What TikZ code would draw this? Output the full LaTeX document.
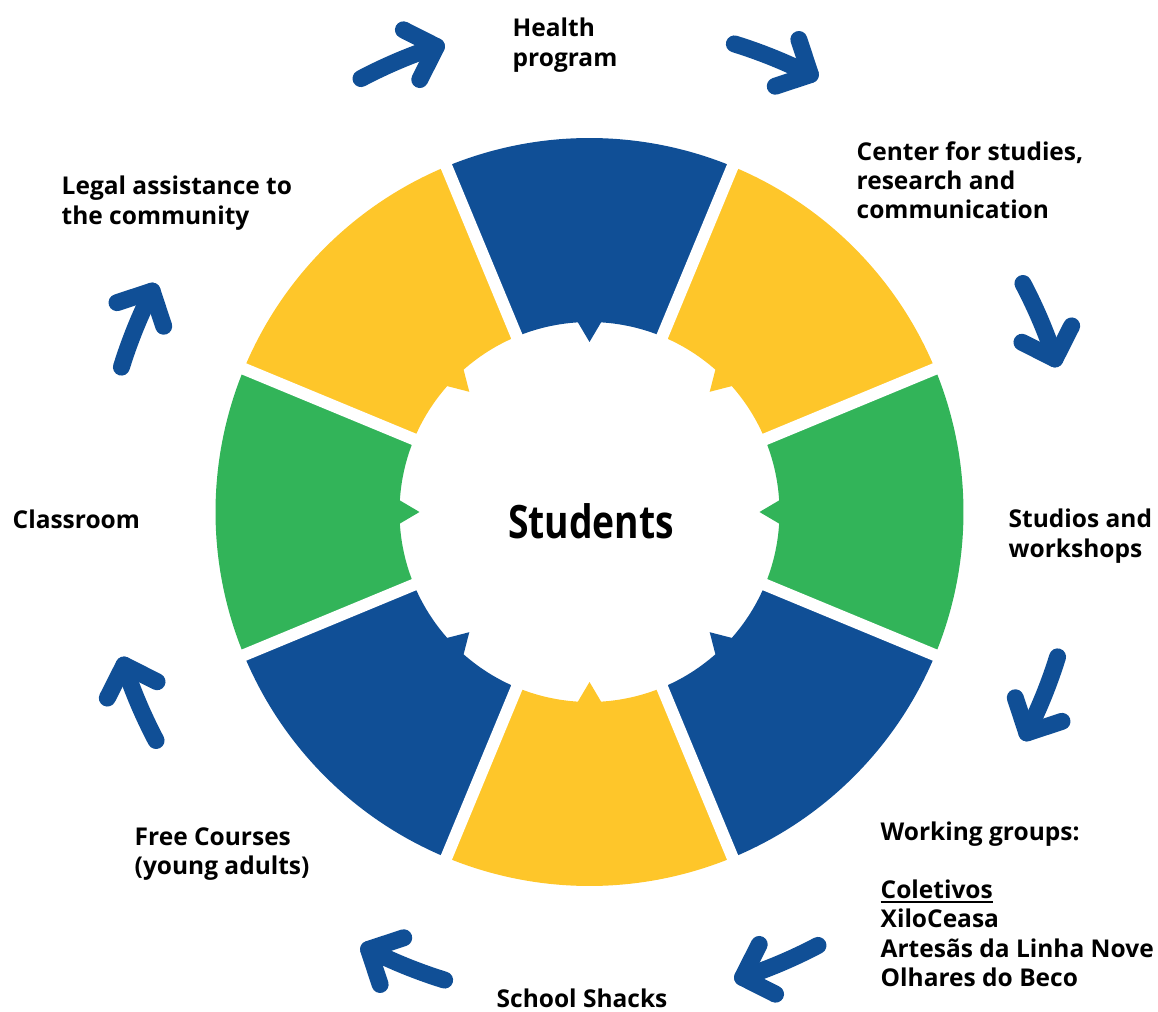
\documentclass[tikz,border=0pt]{standalone}
\usepackage{graphicx}
\usepackage{fontspec}
\setmainfont{Open Sans}
\definecolor{ringblue}{HTML}{104F96}
\definecolor{ringyellow}{HTML}{FEC62A}
\definecolor{ringgreen}{HTML}{32B459}
% underline with a heavier rule than \underline gives
\newcommand{\lineunder}[1]{\setbox0\hbox{#1}\rlap{\rule[-4pt]{\wd0}{2pt}}\box0}

\begin{document}
\begin{tikzpicture}[x=1pt, y=1pt,
	gap/.style={white, line width=12pt},
	post/.style={ringblue, line width=17pt, line cap=round, line join=round},
	lbl/.style={font=\fontsize{24.5}{29.3}\selectfont\bfseries, align=left, inner sep=0pt, anchor=base west}]
	\useasboundingbox (-589.5,-499) rectangle (568.5,512);
	% ring segments, clockwise from the top, each with a tooth on its inner edge
	\foreach \c/\col in {90/ringblue, 45/ringyellow, 0/ringgreen, -45/ringblue, -90/ringyellow, -135/ringblue, 180/ringgreen, 135/ringyellow}{
		\fill[\col] (\c-22.5:374) arc[start angle=\c-22.5, end angle=\c+22.5, radius=374]
			-- (\c+22.5:190) arc[start angle=\c+22.5, end angle=\c+3.5, radius=190]
			-- (\c:170) -- (\c-3.5:190) arc[start angle=\c-3.5, end angle=\c-22.5, radius=190] -- cycle;
	}
	% white gaps between the segments
	\foreach \b in {22.5, 67.5, ..., 337.5}
		\draw[gap] (\b:160) -- (\b:390);
	% curved arrows running clockwise between the labels
	\foreach \b in {112.5, 67.5, 22.5, -22.5, -67.5, -112.5, -157.5, 157.5}{
		\draw[post] (\b+5.3:490) arc[start angle=\b+5.3, end angle=\b-4.3, radius=490];
		\draw[post] (\b-4.3:490) +(\b+40.7:37) -- (\b-4.3:490) -- +(\b+130.7:37);
	}
	\node[font=\fontsize{46}{50}\selectfont\bfseries, inner sep=0pt, anchor=base] (students) at (1.5,-27) {\scalebox{0.81}[1]{Students}};
	% multi-line labels sit on the baseline of their last line
	\node[lbl] (health) at (-77,445.7) {Health\\program};
	\node[lbl] (studies) at (267,293) {Center for studies,\\research and\\communication};
	\node[lbl] (legal) at (-528,287.7) {Legal assistance to\\the community};
	\node[lbl] (classroom) at (-577,-17) {Classroom};
	\node[lbl] (studios) at (419,-45.3) {Studios and\\workshops};
	\node[lbl] (courses) at (-455,-362.3) {Free Courses\\(young adults)};
	\node[lbl] (shacks) at (-93,-495) {School Shacks};
	\node[lbl] (groups) at (291,-474.5) {Working groups:\\[29.3pt]\lineunder{Coletivos}\\XiloCeasa\\Artesãs da Linha Nove\\Olhares do Beco};
\end{tikzpicture}
\end{document}
